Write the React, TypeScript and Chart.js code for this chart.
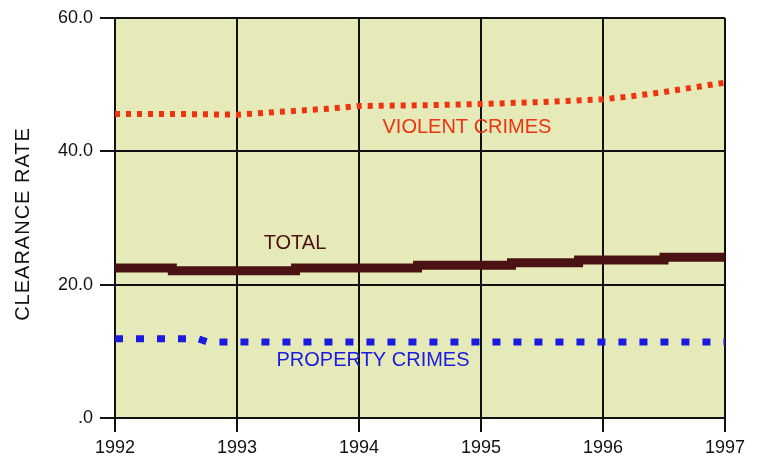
import React, { useEffect, useRef } from "react";
import { Chart, registerables } from "chart.js";

Chart.register(...registerables);

const yearTicks = [1992, 1993, 1994, 1995, 1996, 1997];
const yTicks = [0, 20, 40, 60];

const violentYears = [1992, 1992.5, 1993, 1993.25, 1993.5, 1993.75, 1994, 1994.5, 1995, 1995.5, 1996, 1996.25, 1996.5, 1996.75, 1997];
const violentValues = [45.6, 45.6, 45.5, 45.8, 46.1, 46.4, 46.8, 46.9, 47.1, 47.4, 47.8, 48.3, 48.9, 49.6, 50.3];

const totalYears = [1992, 1992.47, 1993.48, 1994.48, 1995.25, 1995.8, 1996.5, 1997];
const totalValues = [22.5, 22.1, 22.5, 22.9, 23.3, 23.7, 24.1, 24.1];

const propertyYears = [1992, 1992.68, 1992.76, 1997];
const propertyValues = [11.9, 11.9, 11.4, 11.4];

const labelTexts = ["VIOLENT CRIMES", "TOTAL", "PROPERTY CRIMES"];
const labelYears = [1994.885, 1993.475, 1994.115];
const labelValues = [43.65, 26.2, 8.6];
const labelColors = ["#ee3311", "#4a1212", "#1a1ae0"];

const yAxisTitle = "CLEARANCE RATE";

const FONT = "'Liberation Sans', Arial, sans-serif";

const pts = (xs: number[], ys: number[]) => xs.map((x, i) => ({ x, y: ys[i] }));

export default function App() {
  const ref = useRef<HTMLCanvasElement | null>(null);
  useEffect(() => {
    document.body.style.margin = "0";
    const canvas = ref.current;
    if (!canvas) return;

    const bgPlugin = {
      id: "plotBg",
      beforeDraw(chart: any) {
        const { ctx, chartArea } = chart;
        ctx.save();
        ctx.fillStyle = "#e6eab8";
        ctx.fillRect(chartArea.left, chartArea.top, chartArea.right - chartArea.left, chartArea.bottom - chartArea.top);
        ctx.restore();
      },
    };

    const labelPlugin = {
      id: "labels",
      afterDatasetsDraw(chart: any) {
        const { ctx, scales } = chart;
        ctx.save();
        ctx.font = `20px ${FONT}`;
        ctx.textAlign = "center";
        ctx.textBaseline = "middle";
        labelTexts.forEach((t, i) => {
          ctx.fillStyle = labelColors[i];
          ctx.fillText(t, scales.x.getPixelForValue(labelYears[i]), scales.y.getPixelForValue(labelValues[i]));
        });
        ctx.translate(23, 224);
        ctx.rotate(-Math.PI / 2);
        ctx.fillStyle = "#111";
        (ctx as any).letterSpacing = "1px";
        ctx.fillText(yAxisTitle, 0, 0);
        ctx.restore();
      },
    };

    const chart = new Chart(canvas, {
      type: "line",
      data: {
        datasets: [
          {
            label: "Violent crimes",
            data: pts(violentYears, violentValues),
            borderColor: "#ee3311",
            borderWidth: 6,
            borderDash: [5, 6],
            borderCapStyle: "butt",
            pointRadius: 0,
            tension: 0,
          },
          {
            label: "Total",
            data: pts(totalYears, totalValues),
            borderColor: "#4a1212",
            borderWidth: 9,
            stepped: "before",
            pointRadius: 0,
            borderCapStyle: "butt",
          },
          {
            label: "Property crimes",
            data: pts(propertyYears, propertyValues),
            borderColor: "#1a1ae0",
            borderWidth: 7,
            borderDash: [8, 13],
            borderCapStyle: "butt",
            pointRadius: 0,
            tension: 0,
          },
        ],
      },
      options: {
        animation: false,
        responsive: false,
        maintainAspectRatio: false,
        layout: { padding: { top: 18, right: 34, left: 0, bottom: 0 } },
        plugins: { legend: { display: false }, tooltip: { enabled: false }, title: { display: false } },
        scales: {
          x: {
            type: "linear",
            min: 1992,
            max: 1997,
            afterBuildTicks: (s: any) => {
              s.ticks = yearTicks.map((v) => ({ value: v }));
            },
            afterFit: (s: any) => {
              s.height = 39;
            },
            grid: { color: "#111", lineWidth: 2, tickLength: 14, drawTicks: true },
            border: { display: true, color: "#111", width: 2 },
            ticks: {
              color: "#111",
              padding: 5,
              maxRotation: 0,
              font: { family: FONT, size: 18 },
              callback: (v: any) => String(v),
            },
          },
          y: {
            min: 0,
            max: 60,
            afterBuildTicks: (s: any) => {
              s.ticks = yTicks.map((v) => ({ value: v }));
            },
            afterFit: (s: any) => {
              s.width = 115;
            },
            grid: { color: "#111", lineWidth: 2, tickLength: 15, drawTicks: true },
            border: { display: true, color: "#111", width: 2 },
            ticks: {
              color: "#111",
              padding: 7,
              font: { family: FONT, size: 18 },
              callback: (v: any) => (v === 0 ? ".0" : Number(v).toFixed(1)),
            },
          },
        },
      },
      plugins: [bgPlugin, labelPlugin],
    } as any);
    return () => chart.destroy();
  }, []);

  return <canvas ref={ref} width={759} height={457} style={{ display: "block" }} />;
}
